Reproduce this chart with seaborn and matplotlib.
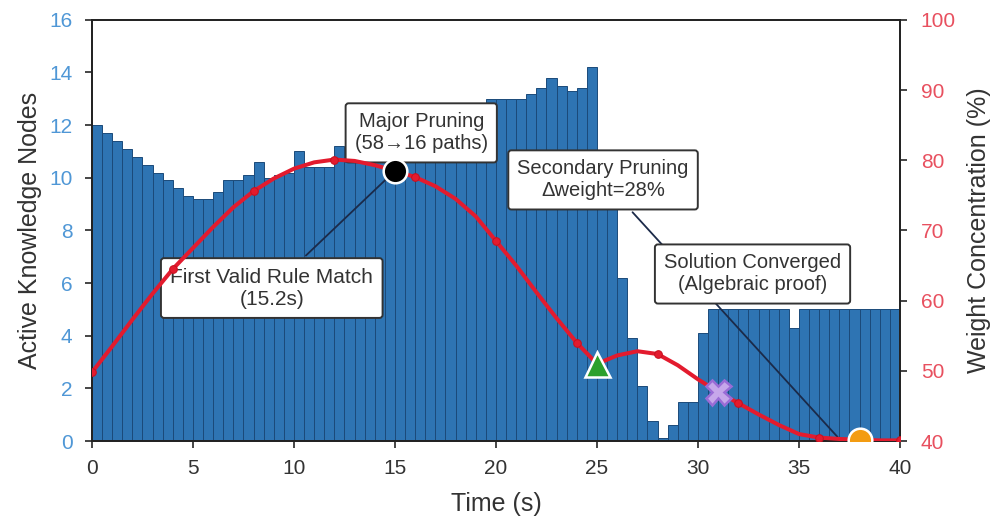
import numpy as np
import pandas as pd
import matplotlib
matplotlib.use("Agg")
import matplotlib.pyplot as plt
import seaborn as sns

# active knowledge nodes, one bar per 0.5 s bin (0.0 ... 39.5)
bin_start = np.arange(0, 40, 0.5)
nodes = [
    12.0, 11.7, 11.4, 11.1, 10.8, 10.5, 10.2, 9.9, 9.6, 9.3,      # 0.0 - 4.5
    9.2, 9.2, 9.45, 9.9, 9.9, 10.1, 10.6, 10.0, 10.1, 10.2,       # 5.0 - 9.5
    11.0, 10.4, 10.4, 10.4, 11.2, 10.6, 10.6, 10.6, 10.6, 10.6,   # 10.0 - 14.5
    10.6, 10.6, 10.6, 10.7, 10.8, 11.0, 11.5, 12.0, 12.4, 13.0,   # 15.0 - 19.5
    13.0, 13.0, 13.0, 13.2, 13.4, 13.8, 13.5, 13.3, 13.4, 14.2,   # 20.0 - 24.5
    10.5, 9.5, 6.2, 3.9, 2.1, 0.76, 0.1, 0.6, 1.5, 1.5,           # 25.0 - 29.5
    4.1, 5.0, 5.0, 5.0, 5.0, 5.0, 5.0, 5.0, 5.0, 4.3,             # 30.0 - 34.5
    5.0, 5.0, 5.0, 5.0, 5.0, 5.0, 5.0, 5.0, 5.0, 5.0,             # 35.0 - 39.5
]

# weight concentration (%), sampled every second
w_time = list(range(0, 41))
weight = [
    49.8, 53.5, 57.3, 61.0, 64.5, 67.5, 70.5, 73.3, 75.6, 77.4,
    78.8, 79.7, 80.1, 79.9, 79.3, 78.5, 77.6, 76.3, 74.5, 72.0,
    68.5, 65.0, 61.2, 57.5, 54.0, 51.0, 52.2, 52.8, 52.4, 50.8,
    48.8, 47.0, 45.4, 43.8, 42.3, 41.0, 40.5, 40.3, 40.2, 40.1,
    40.1,
]

# key events on the weight curve
event_times = [15, 25, 31, 38]
event_markers = ["o", "^", "X", "o"]
event_face = ["black", "#2ca02c", "#c6a7ea", "#f39c12"]
event_edge = ["white", "white", "#9a6cd6", "white"]
event_size = [17, 18, 18, 17]

labels = [
    "First Valid Rule Match\n(15.2s)",
    "Major Pruning\n(58\u219216 paths)",
    "Secondary Pruning\n\u0394weight=28%",
    "Solution Converged\n(Algebraic proof)",
]

sns.set_style("ticks")
plt.rcParams["font.family"] = ["Liberation Sans", "DejaVu Sans"]

fig = plt.figure(figsize=(10.03, 5.22), dpi=100)
ax = fig.add_axes([0.0917, 0.155, 0.8056, 0.807])
ax2 = ax.twinx()

df = pd.DataFrame({"t": bin_start + 0.25, "nodes": nodes})
sns.histplot(data=df, x="t", weights="nodes", binwidth=0.5, binrange=(0, 40),
             ax=ax, color="#2e74b3", edgecolor="#1b4a7a", linewidth=0.7, alpha=1.0)

sns.lineplot(x=w_time, y=weight, ax=ax2, color="#e31b2e", lw=2.9,
             marker="o", markersize=5.5, markevery=4, markeredgecolor="#c8101f",
             zorder=4)

for t, m, fc, ec, s in zip(event_times, event_markers, event_face, event_edge, event_size):
    ax2.plot([t], [weight[w_time.index(t)]], marker=m, ms=s, mfc=fc, mec=ec,
             mew=1.8, ls="none", zorder=6)

box = dict(boxstyle="round,pad=0.45,rounding_size=0.15", fc="white", ec="#333333", lw=1.4)
arrow = dict(arrowstyle="-", color="#1b2a49", lw=1.3)
ax2.annotate(labels[0], xy=(15, weight[15]), xytext=(8.9, 61.8), ha="center", va="center",
             fontsize=15, color="#333333", bbox=box, arrowprops=arrow, zorder=3)
ax2.annotate(labels[1], xy=(16.3, 83.9), ha="center", va="center",
             fontsize=14.5, color="#333333", bbox=box, zorder=3)
ax2.annotate(labels[2], xy=(37, weight[37]), xytext=(25.3, 77.2), ha="center", va="center",
             fontsize=14.5, color="#333333", bbox=box, arrowprops=arrow, zorder=3)
ax2.annotate(labels[3], xy=(32.7, 63.8), ha="center", va="center",
             fontsize=14.5, color="#333333", bbox=box, zorder=3)

ax.set_xlim(0, 40)
ax.set_ylim(0, 16)
ax2.set_ylim(40, 100)
ax.set_xticks(range(0, 41, 5))
ax.set_yticks(range(0, 17, 2))
ax2.set_yticks(range(40, 101, 10))

ax.set_xlabel("Time (s)", fontsize=18, color="#333333", labelpad=10)
ax.set_ylabel("Active Knowledge Nodes", fontsize=18, color="#333333", labelpad=5)
ax2.set_ylabel("Weight Concentration (%)", fontsize=18, color="#333333", labelpad=8)

ax.tick_params(axis="x", labelsize=15, labelcolor="#333333", length=5, width=1.2, pad=8)
ax.tick_params(axis="y", labelsize=15, labelcolor="#4f97d6", length=5, width=1.2, pad=9)
ax2.tick_params(axis="y", labelsize=15, labelcolor="#e8505f", length=5, width=1.2, pad=10)

for a in (ax, ax2):
    for sp in a.spines.values():
        sp.set_color("#222222")
        sp.set_linewidth(1.3)

fig.savefig("out.png", dpi=100)
plt.close(fig)
